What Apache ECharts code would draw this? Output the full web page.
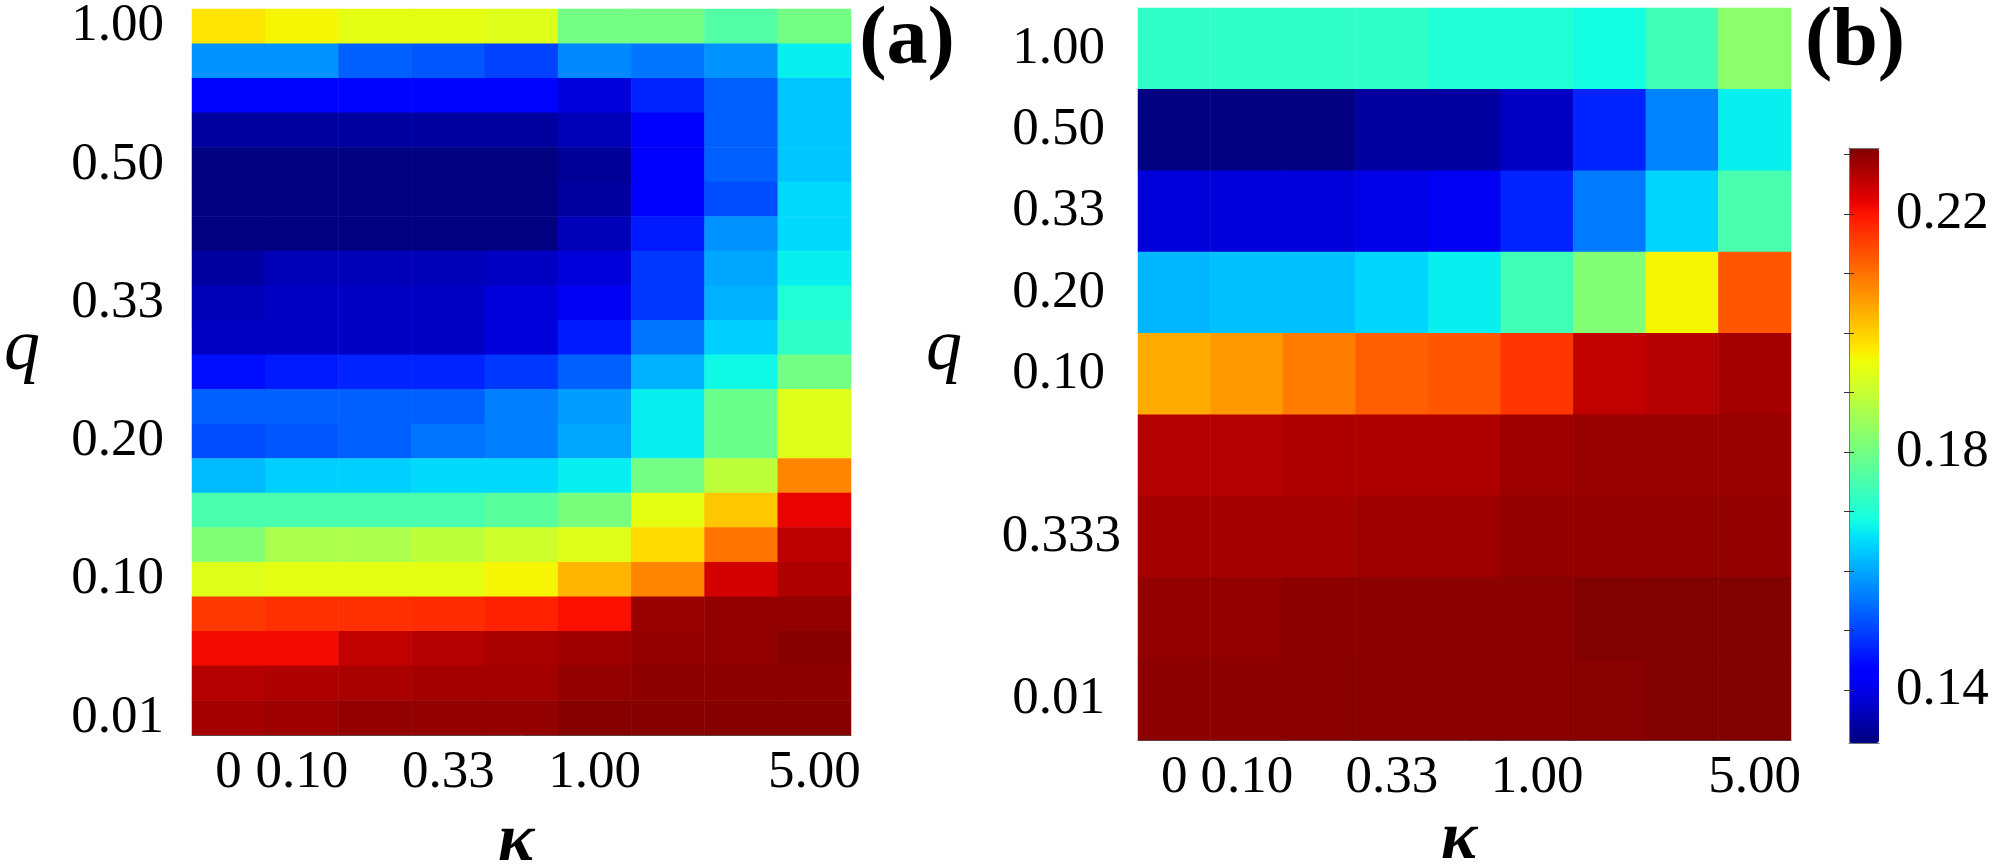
<!DOCTYPE html>
<html>
<head>
<meta charset="utf-8">
<script src="https://cdn.jsdelivr.net/npm/echarts@6/dist/echarts.min.js"></script>
<style>
  html, body { margin: 0; padding: 0; background: #fff; }
  #chart { width: 1993px; height: 867px; }
</style>
</head>
<body>
<div id="chart"></div>
<script>
var kappaLabels = ['0', '0.10', '', '0.33', '', '1.00', '', '', '5.00'];
// q tick labels, bottom row first
var qLabelsA = ['0.01', '', '', '', '0.10', '', '', '', '0.20', '', '', '', '0.33', '', '', '', '0.50', '', '', '', '1.00'];
var qLabelsB = ['0.01', '', '0.333', '', '0.10', '0.20', '0.33', '0.50', '1.00'];
var barTicks = [0.14, 0.15, 0.16, 0.17, 0.18, 0.19, 0.20, 0.21, 0.22, 0.23];
var barLabels = [0.14, 0.18, 0.22];
var vMin = 0.1311, vMax = 0.2311;

// panel (a), rows from top (q = 1.00) to bottom (q = 0.01), columns kappa left to right
var valuesA = [
  [0.198, 0.196, 0.194, 0.194, 0.193, 0.180, 0.180, 0.176, 0.180],
  [0.158, 0.158, 0.153, 0.152, 0.150, 0.157, 0.155, 0.158, 0.167],
  [0.144, 0.144, 0.144, 0.144, 0.144, 0.139, 0.147, 0.153, 0.163],
  [0.134, 0.134, 0.134, 0.134, 0.134, 0.136, 0.142, 0.153, 0.163],
  [0.131, 0.131, 0.131, 0.131, 0.131, 0.133, 0.142, 0.153, 0.163],
  [0.131, 0.131, 0.131, 0.131, 0.131, 0.134, 0.142, 0.151, 0.165],
  [0.131, 0.131, 0.131, 0.131, 0.131, 0.136, 0.146, 0.158, 0.165],
  [0.134, 0.136, 0.136, 0.136, 0.137, 0.139, 0.149, 0.160, 0.167],
  [0.136, 0.137, 0.137, 0.137, 0.139, 0.141, 0.149, 0.161, 0.170],
  [0.137, 0.137, 0.137, 0.137, 0.139, 0.146, 0.155, 0.164, 0.172],
  [0.145, 0.146, 0.147, 0.147, 0.149, 0.153, 0.161, 0.168, 0.180],
  [0.153, 0.153, 0.153, 0.153, 0.156, 0.159, 0.167, 0.179, 0.193],
  [0.151, 0.152, 0.153, 0.155, 0.156, 0.160, 0.167, 0.179, 0.193],
  [0.162, 0.164, 0.164, 0.165, 0.165, 0.167, 0.180, 0.189, 0.208],
  [0.175, 0.175, 0.175, 0.175, 0.177, 0.181, 0.194, 0.201, 0.222],
  [0.182, 0.187, 0.187, 0.189, 0.191, 0.193, 0.199, 0.210, 0.226],
  [0.193, 0.194, 0.194, 0.194, 0.196, 0.203, 0.208, 0.224, 0.227],
  [0.216, 0.217, 0.217, 0.2175, 0.2185, 0.2205, 0.229, 0.2295, 0.2295],
  [0.221, 0.221, 0.2255, 0.2265, 0.2275, 0.2285, 0.2295, 0.2295, 0.2305],
  [0.2265, 0.227, 0.2275, 0.228, 0.228, 0.2295, 0.230, 0.230, 0.230],
  [0.228, 0.2285, 0.2295, 0.2295, 0.2295, 0.2305, 0.2305, 0.2305, 0.2305]
];

// panel (b), rows from top to bottom
var valuesB = [
  [0.172, 0.172, 0.172, 0.172, 0.170, 0.170, 0.1685, 0.174, 0.183],
  [0.131, 0.131, 0.131, 0.134, 0.134, 0.137, 0.147, 0.1565, 0.167],
  [0.139, 0.139, 0.139, 0.140, 0.141, 0.147, 0.1555, 0.1645, 0.175],
  [0.1615, 0.1625, 0.1625, 0.1645, 0.167, 0.174, 0.182, 0.196, 0.213],
  [0.204, 0.206, 0.209, 0.212, 0.213, 0.2165, 0.2255, 0.2265, 0.228],
  [0.2265, 0.2265, 0.227, 0.227, 0.227, 0.2285, 0.229, 0.229, 0.229],
  [0.228, 0.228, 0.228, 0.2285, 0.2285, 0.2295, 0.2295, 0.2295, 0.2295],
  [0.2295, 0.2295, 0.230, 0.230, 0.230, 0.2302, 0.231, 0.231, 0.231],
  [0.230, 0.230, 0.2302, 0.2302, 0.2302, 0.2302, 0.2304, 0.231, 0.231]
];

function toCells(rows) {
  var out = [];
  rows.forEach(function (row, i) {
    row.forEach(function (v, j) {
      out.push([j, rows.length - 1 - i, v]);
    });
  });
  return out;
}

// matplotlib 'jet' segments
var jetR = [[0, 0], [0.35, 0], [0.66, 1], [0.89, 1], [1, 0.5]];
var jetG = [[0, 0], [0.125, 0], [0.375, 1], [0.64, 1], [0.91, 0], [1, 0]];
var jetB = [[0, 0.5], [0.11, 1], [0.34, 1], [0.65, 0], [1, 0]];
function seg(pts, t) {
  for (var k = 1; k < pts.length; k++) {
    if (t <= pts[k][0]) {
      var a = pts[k - 1], b = pts[k];
      return a[1] + (b[1] - a[1]) * (t - a[0]) / (b[0] - a[0]);
    }
  }
  return pts[pts.length - 1][1];
}
function jet(t) {
  return 'rgb(' + Math.round(255 * seg(jetR, t)) + ',' + Math.round(255 * seg(jetG, t)) + ',' + Math.round(255 * seg(jetB, t)) + ')';
}
var jetColors = [];
for (var i = 0; i <= 64; i++) jetColors.push(jet(i / 64));

var font = 'Liberation Serif';
var labelStyle = { fontFamily: font, fontSize: 53, color: '#000' };

function catX(gridIndex) {
  return {
    gridIndex: gridIndex, type: 'category', data: kappaLabels,
    axisLine: { lineStyle: { color: '#555' } },
    axisTick: { alignWithLabel: true, length: 6, lineStyle: { color: '#555' } },
    axisLabel: Object.assign({ interval: 0, margin: 12 }, labelStyle),
    splitLine: { show: false }
  };
}

var option = {
  backgroundColor: '#fff',
  animation: false,
  grid: [
    { left: 192, top: 5, width: 659, height: 730 },
    { left: 1138, top: 8, width: 653, height: 732 },
    { left: 1849, top: 148, width: 30, height: 595 }
  ],
  xAxis: [
    catX(0),
    catX(1),
    { gridIndex: 2, type: 'value', min: 0, max: 1, position: 'bottom', z: 10,
      axisLine: { show: true, onZero: false, lineStyle: { color: '#777' } },
      axisTick: { show: false }, axisLabel: { show: false }, splitLine: { show: false } },
    { gridIndex: 2, type: 'value', min: 0, max: 1, position: 'top', z: 10,
      axisLine: { show: true, onZero: false, lineStyle: { color: '#777' } },
      axisTick: { show: false }, axisLabel: { show: false }, splitLine: { show: false } }
  ],
  yAxis: [
    { gridIndex: 0, type: 'category', data: qLabelsA,
      axisLine: { lineStyle: { color: '#ccc' } },
      axisTick: { alignWithLabel: true, interval: 1, length: 7, lineStyle: { color: '#555' } },
      axisLabel: Object.assign({ interval: 0, margin: 28 }, labelStyle),
      splitLine: { show: false } },
    { gridIndex: 1, type: 'category', data: qLabelsB,
      axisLine: { lineStyle: { color: '#ccc' } },
      axisTick: { alignWithLabel: true, interval: 0, length: 7, lineStyle: { color: '#555' } },
      axisLabel: Object.assign({
        interval: 0, margin: 17,
        formatter: function (v) { return v === '0.333' ? '{w|' + v + '}' : '{n|' + v + '}'; },
        rich: {
          n: { fontFamily: font, fontSize: 53, color: '#000', padding: [0, 16, 0, 0] },
          w: { fontFamily: font, fontSize: 53, color: '#000' }
        }
      }, labelStyle),
      splitLine: { show: false } },
    { gridIndex: 2, type: 'value', min: vMin, max: vMax, position: 'left', z: 10,
      axisLine: { show: true, lineStyle: { color: '#777' } },
      axisTick: { show: true, inside: true, length: 5, customValues: barTicks, lineStyle: { color: '#333' } },
      axisLabel: { show: false }, splitLine: { show: false } },
    { gridIndex: 2, type: 'value', min: vMin, max: vMax, position: 'right', z: 10,
      axisLine: { show: true, lineStyle: { color: '#777' } },
      axisTick: { show: true, inside: true, length: 5, customValues: barTicks, lineStyle: { color: '#333' } },
      axisLabel: Object.assign({
        customValues: barLabels, margin: 17,
        formatter: function (v) { return v.toFixed(2); }
      }, labelStyle),
      splitLine: { show: false } }
  ],
  visualMap: {
    type: 'continuous', min: vMin, max: vMax, calculable: false,
    seriesIndex: [0, 1], orient: 'vertical',
    left: 1849, top: 148, itemWidth: 30, itemHeight: 595, padding: 0,
    text: null, hoverLink: false,
    inRange: { color: jetColors }
  },
  series: [
    { type: 'heatmap', xAxisIndex: 0, yAxisIndex: 0, data: toCells(valuesA),
      progressive: 0, emphasis: { disabled: true } },
    { type: 'heatmap', xAxisIndex: 1, yAxisIndex: 1, data: toCells(valuesB),
      progressive: 0, emphasis: { disabled: true } }
  ],
  graphic: [
    { type: 'text', x: 907, y: 42, style: { text: '(a)', fontFamily: font, fontWeight: 'bold', fontSize: 82, fill: '#000', textAlign: 'center', textVerticalAlign: 'middle' } },
    { type: 'text', x: 1855, y: 43, style: { text: '(b)', fontFamily: font, fontWeight: 'bold', fontSize: 82, fill: '#000', textAlign: 'center', textVerticalAlign: 'middle' } },
    { type: 'text', x: 22, y: 350, style: { text: 'q', fontFamily: font, fontStyle: 'italic', fontSize: 72, fill: '#000', textAlign: 'center', textVerticalAlign: 'middle' } },
    { type: 'text', x: 944, y: 350, style: { text: 'q', fontFamily: font, fontStyle: 'italic', fontSize: 72, fill: '#000', textAlign: 'center', textVerticalAlign: 'middle' } },
    { type: 'text', x: 516, y: 842, style: { text: 'κ', fontFamily: font, fontStyle: 'italic', fontWeight: 'bold', fontSize: 68, fill: '#000', textAlign: 'center', textVerticalAlign: 'middle' } },
    { type: 'text', x: 1459, y: 840, style: { text: 'κ', fontFamily: font, fontStyle: 'italic', fontWeight: 'bold', fontSize: 68, fill: '#000', textAlign: 'center', textVerticalAlign: 'middle' } }
  ]
};

var chart = echarts.init(document.getElementById('chart'));
chart.setOption(option);
</script>
</body>
</html>
